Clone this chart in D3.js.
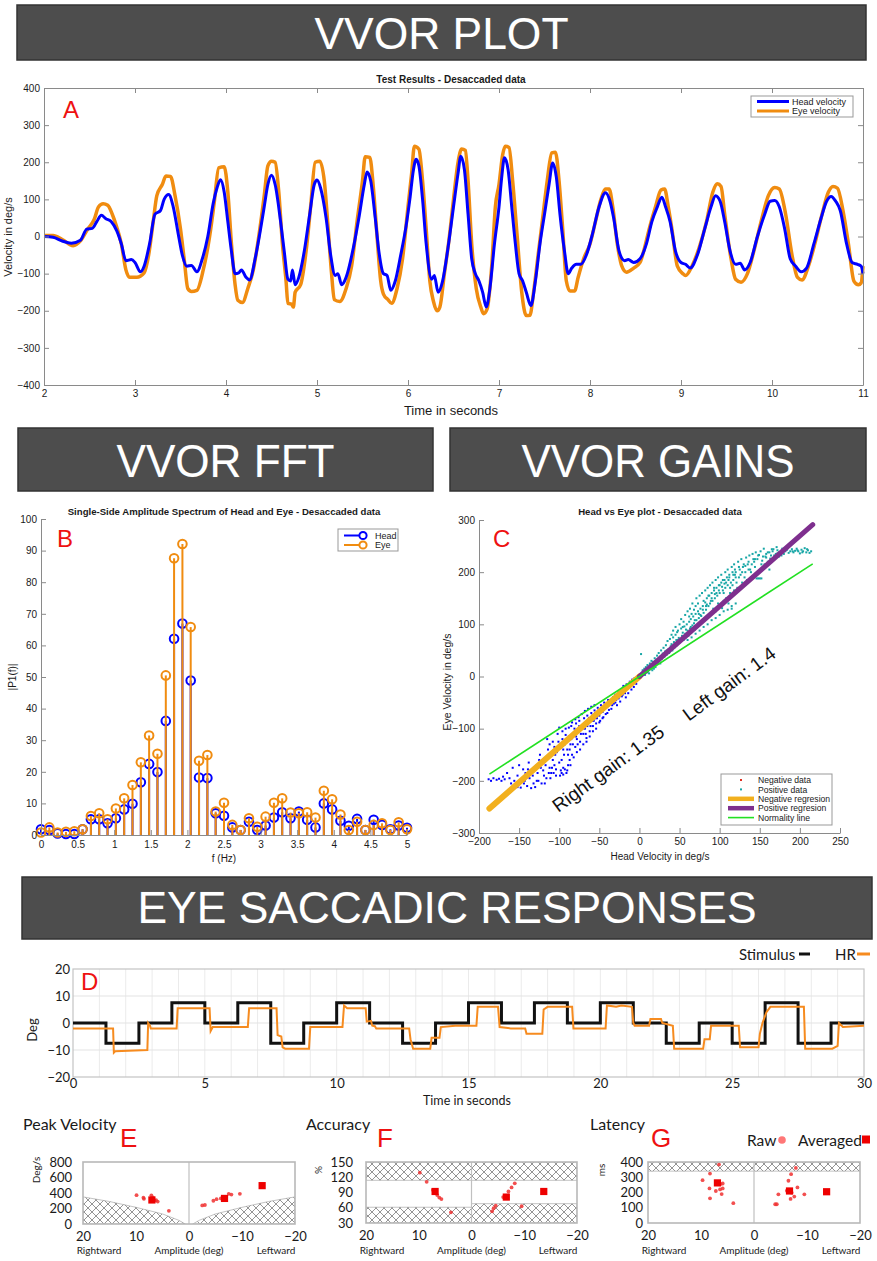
<!DOCTYPE html>
<html><head><meta charset="utf-8">
<script src="https://cdn.jsdelivr.net/npm/d3@7/dist/d3.min.js"></script>
<style>html,body{margin:0;padding:0;background:#fff;}svg{display:block;}</style>
</head><body>
<svg id="chart" width="877" height="1261" xmlns="http://www.w3.org/2000/svg"></svg>
<script>
// ================= DATA =================
const bannerTitles = ["VVOR PLOT", "VVOR FFT", "VVOR GAINS", "EYE SACCADIC RESPONSES"];

// Panel A : velocity traces [time s, deg/s]
const vvorTitle = "Test Results - Desaccaded data";
const vvorXTicks = [2,3,4,5,6,7,8,9,10,11];
const vvorYTicks = [-400,-300,-200,-100,0,100,200,300,400];
const headVel = [[2.00,0],[2.10,-2],[2.20,-12],[2.30,-18],[2.40,-10],[2.47,20],[2.53,22],[2.58,40],[2.63,57],[2.68,48],[2.74,40],[2.80,15],[2.85,-20],[2.90,-65],[2.96,-62],[3.00,-70],[3.06,-95],[3.10,-80],[3.16,-20],[3.22,60],[3.28,70],[3.32,100],[3.37,113],[3.42,80],[3.48,0],[3.52,-50],[3.57,-80],[3.62,-78],[3.68,-95],[3.74,-60],[3.80,0],[3.86,90],[3.90,130],[3.94,153],[3.98,120],[4.02,40],[4.06,-40],[4.10,-100],[4.14,-98],[4.17,-90],[4.22,-110],[4.26,-117],[4.32,-60],[4.38,20],[4.42,80],[4.46,140],[4.50,165],[4.54,140],[4.60,40],[4.64,-40],[4.68,-115],[4.71,-120],[4.73,-90],[4.76,-130],[4.80,-110],[4.86,-40],[4.92,60],[4.97,140],[5.00,152],[5.04,130],[5.10,50],[5.15,-50],[5.20,-105],[5.23,-100],[5.27,-130],[5.32,-110],[5.40,-30],[5.46,50],[5.52,140],[5.55,174],[5.59,150],[5.64,50],[5.68,-40],[5.73,-100],[5.77,-105],[5.81,-145],[5.86,-120],[5.92,-50],[5.98,30],[6.02,100],[6.06,180],[6.09,208],[6.12,190],[6.16,100],[6.20,-20],[6.26,-115],[6.29,-105],[6.33,-150],[6.38,-120],[6.44,-30],[6.50,80],[6.55,170],[6.58,216],[6.62,180],[6.66,60],[6.70,-60],[6.74,-100],[6.78,-120],[6.82,-150],[6.86,-190],[6.90,-140],[6.95,-20],[7.00,80],[7.03,160],[7.06,212],[7.10,180],[7.14,80],[7.18,-20],[7.22,-100],[7.26,-120],[7.30,-150],[7.35,-186],[7.40,-120],[7.45,-20],[7.50,60],[7.55,140],[7.59,198],[7.63,160],[7.67,60],[7.72,-40],[7.76,-100],[7.80,-85],[7.85,-75],[7.90,-75],[7.96,-50],[8.02,0],[8.10,80],[8.17,118],[8.22,95],[8.26,50],[8.32,-40],[8.38,-65],[8.42,-62],[8.48,-70],[8.55,-60],[8.62,-20],[8.68,40],[8.74,80],[8.79,106],[8.83,80],[8.88,40],[8.94,-40],[9.00,-70],[9.05,-75],[9.10,-85],[9.18,-50],[9.26,20],[9.33,80],[9.38,110],[9.43,95],[9.48,40],[9.54,-40],[9.60,-75],[9.65,-72],[9.70,-90],[9.76,-70],[9.84,0],[9.92,60],[9.98,95],[10.03,97],[10.08,80],[10.14,20],[10.20,-60],[10.26,-80],[10.32,-95],[10.38,-85],[10.46,-20],[10.54,50],[10.60,95],[10.65,108],[10.70,95],[10.75,70],[10.82,-20],[10.88,-70],[10.94,-75],[10.98,-80],[11.00,-100]];
const eyeVel = [[2.00,3],[2.10,3],[2.20,-8],[2.32,-25],[2.40,-12],[2.48,20],[2.55,45],[2.60,80],[2.65,88],[2.70,84],[2.75,60],[2.80,25],[2.85,-20],[2.90,-90],[2.94,-110],[3.02,-110],[3.10,-98],[3.15,-50],[3.20,40],[3.24,110],[3.30,140],[3.34,163],[3.39,162],[3.44,110],[3.50,20],[3.54,-60],[3.58,-140],[3.62,-148],[3.68,-145],[3.75,-90],[3.82,0],[3.87,90],[3.92,185],[3.98,188],[4.02,120],[4.06,-20],[4.10,-130],[4.13,-172],[4.18,-178],[4.24,-140],[4.30,-90],[4.36,0],[4.42,110],[4.46,190],[4.50,203],[4.54,200],[4.58,120],[4.62,-20],[4.66,-120],[4.68,-180],[4.72,-182],[4.74,-190],[4.76,-150],[4.82,-130],[4.88,-40],[4.93,80],[4.98,200],[5.03,203],[5.08,150],[5.12,30],[5.16,-100],[5.19,-170],[5.25,-175],[5.32,-140],[5.38,-80],[5.44,40],[5.50,150],[5.53,215],[5.58,213],[5.62,130],[5.66,0],[5.70,-120],[5.73,-155],[5.78,-170],[5.82,-180],[5.88,-140],[5.94,-60],[6.00,80],[6.04,170],[6.07,243],[6.12,235],[6.16,150],[6.20,20],[6.24,-120],[6.28,-175],[6.32,-200],[6.35,-190],[6.40,-100],[6.45,-10],[6.50,100],[6.55,200],[6.59,236],[6.63,232],[6.66,150],[6.70,-20],[6.75,-140],[6.80,-190],[6.83,-208],[6.87,-195],[6.92,-80],[6.96,80],[7.00,140],[7.04,220],[7.07,243],[7.11,240],[7.15,150],[7.20,0],[7.25,-150],[7.30,-213],[7.34,-212],[7.38,-150],[7.43,-50],[7.48,50],[7.53,150],[7.58,225],[7.62,227],[7.66,150],[7.70,20],[7.74,-120],[7.78,-147],[7.83,-147],[7.87,-110],[7.93,-60],[8.00,-20],[8.06,40],[8.12,100],[8.17,128],[8.21,128],[8.25,80],[8.30,-20],[8.35,-80],[8.40,-96],[8.48,-85],[8.55,-70],[8.60,-30],[8.65,20],[8.72,80],[8.78,125],[8.82,128],[8.86,80],[8.90,20],[8.96,-80],[9.02,-100],[9.05,-105],[9.12,-80],[9.20,-30],[9.28,40],[9.35,120],[9.40,142],[9.44,135],[9.48,60],[9.55,-60],[9.60,-115],[9.66,-123],[9.73,-100],[9.80,-40],[9.88,40],[9.96,110],[10.03,132],[10.08,128],[10.15,60],[10.22,-50],[10.28,-110],[10.33,-117],[10.40,-80],[10.47,-20],[10.55,60],[10.62,120],[10.67,135],[10.72,130],[10.78,70],[10.84,-20],[10.90,-120],[10.95,-130],[10.98,-125],[11.00,-80]];

// Panel B : FFT
const fftTitle = "Single-Side Amplitude Spectrum of Head and Eye - Desaccaded data";
const fftFreq = [0,0.114,0.227,0.341,0.455,0.568,0.682,0.795,0.909,1.023,1.136,1.25,1.364,1.477,1.591,1.705,1.818,1.932,2.045,2.159,2.273,2.386,2.5,2.614,2.727,2.841,2.955,3.068,3.182,3.295,3.409,3.523,3.636,3.75,3.864,3.977,4.091,4.205,4.318,4.432,4.545,4.659,4.773,4.886,5];
const fftHead = [1.8,1.6,0.5,0.3,0.3,1.8,5,5,3.7,5.3,8.1,9.9,16.7,22.5,19.9,36.1,62.1,66.9,48.9,18.2,18,6.9,6.1,2.4,1.6,4.2,1.6,3,5.5,7.2,5.3,7.4,4.8,2.4,10,8.1,4.5,2.9,5.1,1.6,4.8,3.2,1.8,3,2.3];
const fftEye = [0.8,2.4,0.8,1,1.2,1.8,6,6.9,5,8.4,11.6,15.8,23,31.5,25.7,50.5,87.6,92.1,65.8,23.5,25.3,7.4,10.2,3.2,1.6,5.3,2.6,5.8,10.2,11.6,7.1,6.9,7.2,5.5,14,11.3,6.5,1.6,4.2,1.6,3.2,3.7,1.6,4,1.8];
const fftXTicks = [0,0.5,1,1.5,2,2.5,3,3.5,4,4.5,5];
const fftYTicks = [0,10,20,30,40,50,60,70,80,90,100];

// Panel C : gains scatter [head deg/s, eye deg/s]
const gainTitle = "Head vs Eye plot - Desaccaded data";
const gainXTicks = [-200,-150,-100,-50,0,50,100,150,200,250];
const gainYTicks = [-300,-200,-100,0,100,200,300];
const negData = [[-188,-197],[-185,-200],[-182,-195],[-178,-198],[-175,-196],[-172,-200],[-168,-197],[-165,-185],[-160,-205],[-158,-175],[-155,-208],[-152,-190],[-150,-170],[-148,-213],[-145,-178],[-143,-200],[-140,-210],[-138,-165],[-135,-214],[-133,-190],[-130,-212],[-128,-170],[-126,-200],[-124,-150],[-122,-205],[-120,-180],[-118,-160],[-116,-195],[-114,-140],[-112,-175],[-110,-185],[-108,-125],[-106,-170],[-105,-150],[-104,-190],[-102,-110],[-100,-165],[-99,-135],[-98,-180],[-96,-120],[-95,-175],[-94,-150],[-92,-100],[-91,-185],[-90,-140],[-89,-170],[-88,-115],[-87,-160],[-86,-130],[-85,-95],[-84,-150],[-82,-110],[-80,-135],[-79,-90],[-78,-120],[-76,-105],[-75,-85],[-74,-125],[-72,-95],[-70,-110],[-69,-80],[-68,-100],[-66,-118],[-65,-75],[-64,-90],[-62,-105],[-60,-70],[-59,-85],[-58,-95],[-56,-65],[-55,-80],[-54,-90],[-52,-60],[-50,-75],[-49,-85],[-48,-55],[-46,-68],[-45,-78],[-44,-50],[-42,-60],[-40,-70],[-39,-45],[-38,-55],[-36,-48],[-35,-62],[-33,-40],[-32,-52],[-30,-35],[-29,-45],[-28,-55],[-26,-30],[-25,-38],[-24,-48],[-22,-25],[-21,-35],[-20,-18],[-18,-28],[-17,-40],[-16,-15],[-15,-22],[-14,-32],[-12,-10],[-11,-18],[-10,-25],[-9,-6],[-8,-12],[-7,-20],[-6,-3],[-5,-8],[-4,-14],[-3,-2],[-2,-5],[-1,-1],
  [-115,-120],[-112,-130],[-110,-150],[-108,-160],[-106,-135],[-103,-145],[-101,-125],[-97,-160],[-95,-140],[-93,-130],[-91,-120],[-89,-150],[-87,-140],[-85,-120],[-83,-130],[-81,-100],[-79,-115],[-77,-130],[-75,-95],[-73,-110],[-71,-100],[-69,-90],[-67,-110],[-65,-95],[-63,-80],[-61,-95],[-59,-75],[-57,-85],[-55,-70],[-53,-80],[-51,-65],[-47,-62],[-43,-58],[-41,-52],[-37,-50],[-34,-45],[-31,-40],[-27,-35],[-23,-30],[-19,-22],[-13,-15],[-170,-192],[-162,-195],[-156,-200],[-150,-205],[-146,-195],[-142,-185],[-137,-195],[-132,-205],[-127,-185],[-123,-175],[-119,-190],[-117,-170],[-113,-185],[-109,-175],[-107,-185],[-97,-185],[-93,-178],[-100,-98],[-96,-105],[-92,-112],[-88,-98],[-84,-88],[-80,-82],[-76,-78],[-72,-72],[-68,-66],[-64,-62],[-60,-58],[-56,-55],[-125,-160],[-121,-165],[-131,-178],[-139,-178],[-144,-205],[-152,-212],[-128,-200],[-118,-205],[-111,-195],[-104,-178],[-99,-190],[-95,-188],[-90,-180],[-86,-170],[-82,-155],[-78,-145],[-74,-140],[-70,-130],[-66,-125],[-62,-115],[-58,-105],[-54,-100],[-50,-88],[-46,-80],[-42,-72],[-38,-64],[-34,-55],[-30,-50],[-26,-42],[-22,-38],[-18,-32]];
const posData = [[2,43],[3,5],[4,12],[5,8],[6,15],[7,3],[8,18],[9,10],[10,22],[11,14],[12,6],[13,25],[14,17],[15,30],[16,12],[17,28],[18,22],[19,35],[20,18],[21,32],[22,40],[23,26],[24,45],[25,30],[26,38],[27,50],[28,34],[29,44],[30,55],[31,38],[32,48],[33,60],[34,42],[35,68],[36,52],[37,45],[38,72],[39,58],[40,62],[41,50],[42,75],[43,66],[44,56],[45,80],[46,70],[47,60],[48,88],[49,74],[50,65],[52,92],[53,78],[54,84],[55,70],[56,96],[57,82],[58,75],[59,100],[60,88],[61,78],[62,105],[63,92],[64,110],[65,85],[66,98],[67,115],[68,102],[69,90],[70,120],[71,108],[72,96],[73,125],[74,112],[75,100],[76,130],[77,116],[78,105],[79,135],[80,122],[81,110],[82,142],[83,128],[84,150],[85,115],[86,135],[87,155],[88,140],[89,120],[90,160],[91,145],[92,130],[93,165],[94,150],[95,125],[96,170],[97,155],[98,140],[99,175],[100,160],[101,135],[102,180],[103,131],[104,165],[105,145],[106,185],[107,170],[108,150],[109,190],[110,175],[111,140],[112,195],[113,160],[114,180],[115,130],[116,200],[117,185],[118,165],[119,205],[120,190],[122,170],[124,210],[126,195],[128,180],[130,215],[132,200],[134,185],[136,220],[138,205],[140,190],[142,225],[144,210],[146,188],[148,188],[150,188],[152,188],[154,230],[156,215],[158,235],[160,220],[162,205],[164,232],[166,240],[168,225],[170,235],[172,242],[174,230],[176,238],[178,245],[180,235],[182,240],[184,243],[186,237],[188,240],[190,244],[192,238],[194,241],[196,245],[198,240],[200,236],[202,243],[204,240],[206,246],[208,238],[210,242],[212,237],[214,240],
  [40,80],[42,88],[45,95],[48,70],[50,100],[52,110],[55,105],[57,118],[58,90],[60,125],[62,115],[63,130],[65,120],[66,140],[68,128],[70,135],[71,150],[73,140],[75,155],[76,118],[78,160],[80,145],[82,165],[83,135],[85,170],[86,155],[88,175],[90,150],[91,180],[93,170],[95,185],[96,160],[98,190],[100,175],[102,195],[104,185],[105,160],[107,200],[108,180],[110,205],[112,190],[113,170],[115,210],[117,195],[118,215],[120,200],[121,180],[123,220],[125,205],[127,225],[129,210],[131,190],[133,228],[135,215],[137,232],[139,200],[141,235],[143,220],[145,238],[147,225],[149,233],[151,240],[153,222],[155,245],[157,230],[160,238],[163,226],[165,244],[168,232],[171,248],[174,238],[177,232],[60,70],[65,75],[70,82],[75,88],[80,95],[85,100],[90,108],[95,112],[100,118],[105,125],[110,128],[115,135],[120,140],
  [10,8],[14,22],[18,15],[22,30],[26,25],[30,42],[34,50],[38,48],[44,62],[47,85],[51,72],[54,95],[59,82],[64,95],[69,108],[74,120],[79,128],[84,138],[89,145],[94,158],[99,165],[103,172],[106,178],[111,185],[116,175],[119,195],[124,190],[128,200],[132,212],[136,205],[140,215],[144,225],[148,232],[152,215],[158,228],[162,238],[167,244],[172,236],[179,240],[185,246],[191,240],[197,242],[203,238],[209,244]];
const negRegX = [-187, 0], negRegY = [-253, 0];
const posRegX = [0, 216], posRegY = [0, 291];
const normX = [-187, 216], normY = [-187, 216];
const gainLabels = ["Right gain: 1.35", "Left gain: 1.4"];
const gainLegend = ["Negative data", "Positive data", "Negative regresion", "Positive regresion", "Normality line"];

// Panel D : saccade stimulus & HR [s, deg]
const sacXTicks = [0,5,10,15,20,25,30];
const sacYTicks = [-20,-10,0,10,20];
const stimT = [0,1.25,2.5,3.75,5,6.25,7.5,8.75,10,11.25,12.5,13.75,15,16.25,17.5,18.75,20,21.25,22.5,23.75,25,26.25,27.5,28.75,30];
const stimV = [0,-7.5,0,7.5,0,7.5,-7.5,0,7.5,0,-7.5,0,7.5,0,7.5,0,7.5,0,-7.5,0,-7.5,7.5,-7.5,0,0];
const hrResp = [[0,-2],[1.52,-2],[1.55,-11],[1.6,-10.5],[2.82,-10],[2.85,0],[2.92,-1],[2.95,-2],[3.93,-2],[3.97,5.5],[5.18,5.5],[5.22,-3],[5.3,-1.5],[6.63,-1.5],[6.68,5.5],[7.72,5.5],[7.76,-4.5],[7.9,-5],[7.95,-9],[8.05,-9.5],[8.95,-9.5],[9.0,-1.5],[10.22,-1.5],[10.28,6.5],[10.4,5.5],[11.1,5.5],[11.14,0.5],[11.3,0.8],[11.35,-1],[11.45,-1.2],[11.5,-2],[12.75,-2],[12.8,-6],[12.9,-9.5],[13.55,-9.5],[13.6,-5.5],[13.9,-5.5],[13.95,-1.5],[14.5,-1],[15.3,-1],[15.35,6],[16.12,6],[16.18,-1.5],[16.6,-2],[17.15,-2],[17.2,-4],[17.8,-4],[17.85,5],[18.0,6],[18.93,6],[18.98,-2],[20.2,-2],[20.25,6.5],[20.6,6],[20.8,6.5],[21.2,6],[21.25,0],[21.3,-1],[21.85,-1],[21.9,1.5],[22.3,1.5],[22.35,0],[22.75,-1],[22.8,-9.5],[23.9,-9.5],[23.95,-6],[24.15,-6],[24.2,-1],[25.25,-1],[25.3,-9],[26.0,-9],[26.05,-4],[26.15,0],[26.3,4],[26.45,6],[27.72,6],[27.77,-9.5],[28.8,-9.5],[29.0,-8.5],[29.05,0],[29.2,-1.5],[30,-1]];

// Panels E, F, G : [amplitude deg, value]
const ampTicks = [20,10,0,-10,-20];
const pvYTicks = [0,200,400,600,800];
const pvRaw = [[9.9,372],[8.6,340],[8.5,325],[7.1,370],[6.8,340],[6.2,308],[5.9,290],[6.5,300],[3.8,170],[-2.5,240],[-3.0,245],[-4.6,300],[-5.2,320],[-6.0,330],[-7.5,390],[-8.0,380],[-9.6,390]];
const pvAvg = [[7.0,310],[-6.7,330],[-13.8,495]];
const pvHatchAmp = [20,15,10,5,2,0.7];
const pvHatchVel = [350,290,215,130,50,0];
const accYTicks = [30,60,90,120,150];
const accRaw = [[9.8,129],[8.5,111],[7.3,95],[6.9,90],[6.5,85],[6.1,80],[5.7,77],[3.9,51],[-3.9,53],[-4.2,59],[-4.6,64],[-6.0,81],[-7.0,92],[-7.6,100],[-8.2,108],[-9.5,63]];
const accAvg = [[6.9,92],[-6.6,81],[-13.7,92]];
const accHatchTop = [114,150];
const accHatchLowRight = [30,61];   // rightward side (positive amplitude)
const accHatchLowLeft = [30,68];    // leftward side (negative amplitude)
const latYTicks = [0,100,200,300,400];
const latRaw = [[9.7,281],[8.3,324],[6.6,383],[8.4,227],[8.3,162],[7.2,210],[6.4,220],[5.9,227],[5.9,259],[6.3,255],[6.1,190],[3.9,130],[-4.0,123],[-4.3,123],[-4.6,188],[-6.5,277],[-7.0,320],[-7.9,361],[-6.2,212],[-7.1,199],[-7.6,173],[-6.9,158],[-8.2,233],[-9.5,188]];
const latAvg = [[6.9,263],[-6.7,210],[-13.7,205]];
const latHatch = [340,400];

// ================= DRAWING =================
const svg = d3.select("#chart");
const F1 = '"Liberation Sans", Arial, Helvetica, sans-serif';
const F2 = 'Lato, "Open Sans", sans-serif';
const GRAY = "#8a8a8a";
const BLUE = "#0000ff", ORANGE = "#f08c10", RED = "#ee1111";

const defs = svg.append("defs");
const pat = defs.append("pattern").attr("id","hatch").attr("patternUnits","userSpaceOnUse")
  .attr("width",8).attr("height",8);
pat.append("path").attr("d","M0,0 L8,8 M8,0 L0,8 M-1,7 L1,9 M7,-1 L9,1").attr("stroke","#7a7a7a").attr("stroke-width",0.8).attr("fill","none");

function text(g, x, y, s, o = {}) {
  const t = g.append("text").attr("x", x).attr("y", y).text(s)
    .attr("font-family", o.ff || F1).attr("font-size", o.fs || 10)
    .attr("fill", o.fill || "#1a1a1a").attr("text-anchor", o.anchor || "start");
  if (o.weight) t.attr("font-weight", o.weight);
  if (o.rotate !== undefined) t.attr("transform", `rotate(${o.rotate},${x},${y})`);
  return t;
}
function styleAxis(g, fs, ff, col) {
  g.attr("font-family", ff).attr("font-size", fs);
  g.selectAll("path.domain").attr("stroke", col);
  g.selectAll(".tick line").attr("stroke", col);
  g.selectAll(".tick text").attr("fill", "#1a1a1a");
  return g;
}

// ---- Banners
const bannerBoxes = [
  {x:17, y:5, w:849, h:55, base:49, fs:45, tl:254},
  {x:18, y:428, w:415, h:63, base:477, fs:47, tl:218},
  {x:450, y:428, w:416, h:63, base:477, fs:47, tl:273},
  {x:22, y:877, w:850, h:62, base:923, fs:44, tl:619}
];
bannerTitles.forEach((t, i) => {
  const b = bannerBoxes[i];
  svg.append("rect").attr("x", b.x).attr("y", b.y).attr("width", b.w).attr("height", b.h)
    .attr("fill", "#4d4d4d").attr("stroke", "#333").attr("stroke-width", 1.5);
  svg.append("text").attr("x", b.x + b.w / 2).attr("y", b.base).text(t)
    .attr("font-family", F1).attr("font-size", b.fs).attr("fill", "#fff")
    .attr("stroke", "#666").attr("stroke-width", 0.6).attr("paint-order", "stroke")
    .attr("text-anchor", "middle").attr("textLength", b.tl).attr("lengthAdjust", "spacingAndGlyphs");
});

// ---- Panel A
{
  const x = d3.scaleLinear().domain([2, 11]).range([44, 863]);
  const y = d3.scaleLinear().domain([-400, 400]).range([385, 88]);
  const g = svg.append("g");
  const line = d3.line().x(d => x(d[0])).y(d => y(d[1])).curve(d3.curveMonotoneX);
  g.append("path").datum(eyeVel).attr("d", line).attr("fill", "none").attr("stroke", ORANGE).attr("stroke-width", 3.5).attr("stroke-linejoin","round");
  g.append("path").datum(headVel).attr("d", line).attr("fill", "none").attr("stroke", BLUE).attr("stroke-width", 3).attr("stroke-linejoin","round");
  styleAxis(g.append("g").attr("transform", "translate(0,385)")
    .call(d3.axisBottom(x).tickValues(vvorXTicks).tickSize(-5).tickSizeOuter(0).tickPadding(5)), 10, F1, GRAY);
  styleAxis(g.append("g").attr("transform", "translate(0,88)")
    .call(d3.axisTop(x).tickValues(vvorXTicks).tickSize(-5).tickSizeOuter(0).tickFormat("")), 10, F1, GRAY);
  styleAxis(g.append("g").attr("transform", "translate(44,0)")
    .call(d3.axisLeft(y).tickValues(vvorYTicks).tickSize(-5).tickSizeOuter(0).tickPadding(4)), 10, F1, GRAY);
  styleAxis(g.append("g").attr("transform", "translate(863,0)")
    .call(d3.axisRight(y).tickValues(vvorYTicks).tickSize(-5).tickSizeOuter(0).tickFormat("")), 10, F1, GRAY);
  text(g, 451, 83, vvorTitle, {fs: 10, weight: "bold", anchor: "middle"});
  text(g, 451, 415, "Time in seconds", {fs: 13, anchor: "middle"});
  text(g, 12, 237, "Velocity in deg/s", {fs: 11, anchor: "middle", rotate: -90});
  text(g, 63, 118, "A", {fs: 24, fill: RED});
  // legend
  const lg = g.append("g");
  lg.append("rect").attr("x", 751).attr("y", 96).attr("width", 102).attr("height", 21).attr("fill", "#fff").attr("stroke", "#999");
  [["Head velocity", BLUE], ["Eye velocity", ORANGE]].forEach((d, i) => {
    const yy = 101.5 + i * 9.5;
    lg.append("line").attr("x1", 757).attr("x2", 789).attr("y1", yy).attr("y2", yy).attr("stroke", d[1]).attr("stroke-width", 3);
    text(lg, 792, yy + 3.3, d[0], {fs: 9});
  });
}

// ---- Panel B
{
  const x = d3.scaleLinear().domain([0, 5]).range([41, 407]);
  const y = d3.scaleLinear().domain([0, 100]).range([835, 519]);
  const g = svg.append("g");
  const series = [[fftHead, BLUE], [fftEye, ORANGE]];
  series.forEach(([vals, col]) => {
    g.append("g").selectAll("line").data(vals).join("line")
      .attr("x1", (d, i) => x(fftFreq[i])).attr("x2", (d, i) => x(fftFreq[i]))
      .attr("y1", y(0)).attr("y2", d => y(d)).attr("stroke", col).attr("stroke-width", 2);
    g.append("g").selectAll("circle").data(vals).join("circle")
      .attr("cx", (d, i) => x(fftFreq[i])).attr("cy", d => y(d)).attr("r", 4.3)
      .attr("fill", "none").attr("stroke", col).attr("stroke-width", 2);
  });
  styleAxis(g.append("g").attr("transform", "translate(0,835)")
    .call(d3.axisBottom(x).tickValues(fftXTicks).tickSize(-5).tickSizeOuter(0).tickPadding(6).tickFormat(d => d)), 10, F1, GRAY);
  styleAxis(g.append("g").attr("transform", "translate(41,0)")
    .call(d3.axisLeft(y).tickValues(fftYTicks).tickSize(-5).tickSizeOuter(0).tickPadding(4)), 10, F1, GRAY);
  text(g, 224, 515, fftTitle, {fs: 9.6, weight: "bold", anchor: "middle"});
  text(g, 224, 862, "f (Hz)", {fs: 10, anchor: "middle"});
  text(g, 16, 677, "|P1(f)|", {fs: 10, anchor: "middle", rotate: -90});
  text(g, 57, 547, "B", {fs: 24, fill: RED});
  const lg = g.append("g");
  lg.append("rect").attr("x", 338).attr("y", 529).attr("width", 60).attr("height", 22).attr("fill", "#fff").attr("stroke", "#999");
  [["Head", BLUE], ["Eye", ORANGE]].forEach((d, i) => {
    const yy = 535.5 + i * 9.5;
    lg.append("line").attr("x1", 344).attr("x2", 362).attr("y1", yy).attr("y2", yy).attr("stroke", d[1]).attr("stroke-width", 2);
    lg.append("circle").attr("cx", 363).attr("cy", yy).attr("r", 3.6).attr("fill", "#fff").attr("stroke", d[1]).attr("stroke-width", 2);
    text(lg, 375, yy + 3.3, d[0], {fs: 9});
  });
}

// ---- Panel C
{
  const x = d3.scaleLinear().domain([-200, 250]).range([479, 840]);
  const y = d3.scaleLinear().domain([-300, 300]).range([833, 520]);
  const g = svg.append("g");
  g.append("g").selectAll("rect").data(negData).join("rect")
    .attr("x", d => x(d[0]) - 1).attr("y", d => y(d[1]) - 1).attr("width", 2).attr("height", 2).attr("fill", BLUE);
  g.append("g").selectAll("rect").data(posData).join("rect")
    .attr("x", d => x(d[0]) - 1).attr("y", d => y(d[1]) - 1).attr("width", 2).attr("height", 2).attr("fill", "#17a6a6");
  const seg = (xs, ys) => xs.map((v, i) => [v, ys[i]]);
  const line = d3.line().x(d => x(d[0])).y(d => y(d[1]));
  g.append("path").attr("d", line(seg(negRegX, negRegY))).attr("stroke", "#f2b01e").attr("stroke-width", 6).attr("stroke-linecap", "round").attr("fill", "none");
  g.append("path").attr("d", line(seg(posRegX, posRegY))).attr("stroke", "#7e2f8e").attr("stroke-width", 5).attr("stroke-linecap", "round").attr("fill", "none");
  g.append("path").attr("d", line(seg(normX, normY))).attr("stroke", "#22e022").attr("stroke-width", 1.6).attr("fill", "none");
  styleAxis(g.append("g").attr("transform", "translate(0,833)")
    .call(d3.axisBottom(x).tickValues(gainXTicks).tickSize(-5).tickSizeOuter(0).tickPadding(5)), 10, F1, GRAY);
  styleAxis(g.append("g").attr("transform", "translate(479,0)")
    .call(d3.axisLeft(y).tickValues(gainYTicks).tickSize(-5).tickSizeOuter(0).tickPadding(4)), 10, F1, GRAY);
  text(g, 660, 515, gainTitle, {fs: 9.6, weight: "bold", anchor: "middle"});
  text(g, 660, 860, "Head Velocity in deg/s", {fs: 10, anchor: "middle"});
  text(g, 451, 682, "Eye Velocity in deg/s", {fs: 10.5, anchor: "middle", rotate: -90});
  text(g, 493, 547, "C", {fs: 24, fill: RED});
  text(g, 612, 774, gainLabels[0], {fs: 19, anchor: "middle", rotate: -36, fill: "#111"});
  text(g, 733, 689, gainLabels[1], {fs: 19, anchor: "middle", rotate: -36.5, fill: "#111"});
  const lg = g.append("g");
  lg.append("rect").attr("x", 721).attr("y", 774).attr("width", 111).attr("height", 51).attr("fill", "#fff").attr("stroke", "#999");
  gainLegend.forEach((s, i) => {
    const yy = 780 + i * 9.4;
    if (i === 0) lg.append("rect").attr("x", 740).attr("y", yy - 1).attr("width", 2).attr("height", 2).attr("fill", "#e03020");
    else if (i === 1) lg.append("rect").attr("x", 740).attr("y", yy - 1).attr("width", 2).attr("height", 2).attr("fill", "#17a6a6");
    else {
      const c = ["#f2b01e", "#7e2f8e", "#22e022"][i - 2];
      lg.append("line").attr("x1", 728).attr("x2", 754).attr("y1", yy).attr("y2", yy).attr("stroke", c).attr("stroke-width", i === 4 ? 1.6 : 4.5);
    }
    text(lg, 758, yy + 3.2, s, {fs: 8.6});
  });
}

// ---- Panel D
{
  const x = d3.scaleLinear().domain([0, 30]).range([73, 864]);
  const y = d3.scaleLinear().domain([-20, 20]).range([1077, 969]);
  const g = svg.append("g");
  g.append("g").selectAll("line").data(d3.range(1, 30)).join("line")
    .attr("x1", d => x(d)).attr("x2", d => x(d)).attr("y1", y(-20)).attr("y2", y(20)).attr("stroke", "#ebebeb");
  g.append("g").selectAll("line").data([-10, 0, 10]).join("line")
    .attr("x1", x(0)).attr("x2", x(30)).attr("y1", d => y(d)).attr("y2", d => y(d)).attr("stroke", "#e3e3e3");
  g.append("rect").attr("x", x(0)).attr("y", y(20)).attr("width", x(30) - x(0)).attr("height", y(-20) - y(20))
    .attr("fill", "none").attr("stroke", "#c4c4c4").attr("stroke-width", 1.2);
  const stim = stimT.map((t, i) => [t, stimV[i]]);
  g.append("path").attr("d", d3.line().x(d => x(d[0])).y(d => y(d[1])).curve(d3.curveStepAfter)(stim))
    .attr("fill", "none").attr("stroke", "#111").attr("stroke-width", 3);
  g.append("path").attr("d", d3.line().x(d => x(d[0])).y(d => y(d[1]))(hrResp))
    .attr("fill", "none").attr("stroke", "#f68b1f").attr("stroke-width", 2);
  const ax = g.append("g").attr("transform", `translate(0,${y(-20)})`)
    .call(d3.axisBottom(x).tickValues(sacXTicks).tickSize(0).tickPadding(2));
  ax.select(".domain").remove();
  styleAxis(ax, 13, F2, GRAY);
  const ay = g.append("g").attr("transform", `translate(${x(0)},0)`)
    .call(d3.axisLeft(y).tickValues(sacYTicks).tickSize(0).tickPadding(3));
  ay.select(".domain").remove();
  styleAxis(ay, 13, F2, GRAY);
  text(g, 467, 1105, "Time in seconds", {fs: 12.5, ff: F2, anchor: "middle"});
  text(g, 37, 1030, "Deg", {fs: 13, ff: F2, anchor: "middle", rotate: -90});
  text(g, 81, 990, "D", {fs: 24, fill: RED});
  text(g, 739, 960, "Stimulus", {fs: 15, ff: F2});
  g.append("line").attr("x1", 799).attr("x2", 810).attr("y1", 954).attr("y2", 954).attr("stroke", "#111").attr("stroke-width", 3);
  text(g, 835, 960, "HR", {fs: 15, ff: F2});
  g.append("line").attr("x1", 857).attr("x2", 870).attr("y1", 954).attr("y2", 954).attr("stroke", "#f68b1f").attr("stroke-width", 3);
}

// ---- Panels E, F, G
function sacPanel(cfg) {
  const x = d3.scaleLinear().domain([20, -20]).range(cfg.xr);
  const y = d3.scaleLinear().domain(cfg.yd).range([cfg.yb, 1162]);
  const g = svg.append("g");
  const clipId = "clip" + cfg.id;
  g.append("clipPath").attr("id", clipId).append("rect")
    .attr("x", cfg.xr[0]).attr("y", 1162).attr("width", cfg.xr[1] - cfg.xr[0]).attr("height", cfg.yb - 1162);
  g.append("rect").attr("x", cfg.xr[0]).attr("y", 1162).attr("width", cfg.xr[1] - cfg.xr[0]).attr("height", cfg.yb - 1162).attr("fill", "#fff");
  const hg = g.append("g").attr("clip-path", `url(#${clipId})`);
  cfg.hatches.forEach(h => {
    hg.append("path").attr("d", d3.area().x(d => x(d[0])).y0(d => y(d[1])).y1(d => y(d[2]))(h))
      .attr("fill", "url(#hatch)").attr("stroke", "#9a9a9a").attr("stroke-width", 0.6);
  });
  g.append("line").attr("x1", x(0)).attr("x2", x(0)).attr("y1", 1162).attr("y2", cfg.yb).attr("stroke", "#c0c0c0").attr("stroke-width", 1.2);
  g.append("rect").attr("x", cfg.xr[0]).attr("y", 1162).attr("width", cfg.xr[1] - cfg.xr[0]).attr("height", cfg.yb - 1162)
    .attr("fill", "none").attr("stroke", "#b8b8b8").attr("stroke-width", 1.6);
  g.append("g").selectAll("circle").data(cfg.raw).join("circle")
    .attr("cx", d => x(d[0])).attr("cy", d => y(d[1])).attr("r", 1.9).attr("fill", "#f03030").attr("fill-opacity", 0.85);
  g.append("g").selectAll("rect").data(cfg.avg).join("rect")
    .attr("x", d => x(d[0]) - 3.6).attr("y", d => y(d[1]) - 3.6).attr("width", 7.2).attr("height", 7.2).attr("fill", "#ee0000");
  const ax = g.append("g").attr("transform", `translate(0,${cfg.yb})`)
    .call(d3.axisBottom(x).tickValues(ampTicks).tickSize(0).tickPadding(8));
  ax.select(".domain").remove();
  styleAxis(ax, 13, F2, GRAY);
  const ay = g.append("g").attr("transform", `translate(${cfg.xr[0]},0)`)
    .call(d3.axisLeft(y).tickValues(cfg.yt).tickSize(0).tickPadding(cfg.pad));
  ay.select(".domain").remove();
  styleAxis(ay, 13, F2, GRAY);
  text(g, cfg.xr[0] + 16, 1254, "Rightward", {fs: 10, ff: F2, anchor: "middle"});
  text(g, x(0), 1254, "Amplitude (deg)", {fs: 10, ff: F2, anchor: "middle"});
  text(g, cfg.xr[1] - 19, 1254, "Leftward", {fs: 10, ff: F2, anchor: "middle"});
  text(g, cfg.tx, 1130, cfg.title, {fs: 16, ff: F2});
  text(g, cfg.lx, 1147, cfg.letter, {fs: 26, fill: RED});
  text(g, cfg.ytx, 1170, cfg.ylab, {fs: 10, ff: F2, anchor: "middle", rotate: -90});
}
sacPanel({id: "E", xr: [83, 295], yd: [0, 800], yb: 1224, yt: pvYTicks, pad: 11,
  raw: pvRaw, avg: pvAvg, title: "Peak Velocity", tx: 23, letter: "E", lx: 120, ytx: 40, ylab: "Deg/s",
  hatches: [pvHatchAmp.map((a, i) => [a, 0, pvHatchVel[i]]), pvHatchAmp.map((a, i) => [-a, 0, pvHatchVel[i]]).reverse()]});
sacPanel({id: "F", xr: [366, 577], yd: [30, 150], yb: 1223, yt: accYTicks, pad: 13,
  raw: accRaw, avg: accAvg, title: "Accuracy", tx: 306, letter: "F", lx: 377, ytx: 322, ylab: "%",
  hatches: [[[20, accHatchTop[0], accHatchTop[1]], [-20, accHatchTop[0], accHatchTop[1]]],
            [[20, accHatchLowRight[0], accHatchLowRight[1]], [0, accHatchLowRight[0], accHatchLowRight[1]]],
            [[0, accHatchLowLeft[0], accHatchLowLeft[1]], [-20, accHatchLowLeft[0], accHatchLowLeft[1]]]]});
sacPanel({id: "G", xr: [648, 860], yd: [0, 400], yb: 1223, yt: latYTicks, pad: 5,
  raw: latRaw, avg: latAvg, title: "Latency", tx: 590, letter: "G", lx: 651, ytx: 605, ylab: "ms",
  hatches: [[[20, latHatch[0], latHatch[1]], [-20, latHatch[0], latHatch[1]]]]});
// Raw / Averaged legend
text(svg, 747, 1146, "Raw", {fs: 15.5, ff: F2});
svg.append("circle").attr("cx", 782).attr("cy", 1140).attr("r", 3.8).attr("fill", "#f77");
text(svg, 798, 1146, "Averaged", {fs: 15.5, ff: F2});
svg.append("rect").attr("x", 862).attr("y", 1135.5).attr("width", 8).attr("height", 8).attr("fill", "#ee0000");
</script>
</body></html>
